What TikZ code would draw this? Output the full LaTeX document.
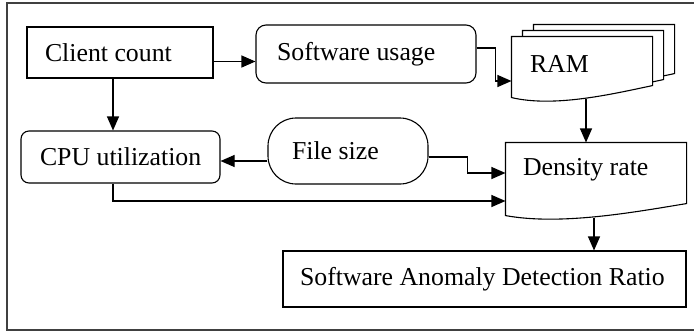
\documentclass[tikz,border=0pt]{standalone}
\usepackage{fontspec}
\setmainfont{Liberation Serif}
\usetikzlibrary{arrows.meta, calc, backgrounds}
\newcommand{\lefttext}[2]{\makebox[#1][l]{#2}}
\tikzset{
  box/.style={draw, line width=0.55pt, inner ysep=0pt},
  roundbox/.style={box, rounded corners=5pt},
  pill/.style={box, rounded corners=14pt},
  docbox/.style={box, draw=none},
  docline/.style={line width=0.55pt, fill=white},
  frame/.style={line width=1pt, draw=black!75},
  arr/.style={-{Triangle[length=7pt, width=6pt]}, line width=0.55pt},
  docpath/.style 2 args={insert path={
      ($(#1.north west)+#2$) -- ($(#1.north east)+#2$)
      -- ($(#1.south east)+(0,-12)+#2$)
      .. controls ($(#1.south west)!0.7!(#1.south east)+(0,-3)+#2$)
      and ($(#1.south west)!0.3!(#1.south east)+(0,10)+#2$)
      .. ($(#1.south west)+#2$) -- cycle}},
}

\begin{document}
\begin{tikzpicture}[x=0.5pt, y=-0.5pt, font=\fontsize{12.9}{15}\selectfont]
  \useasboundingbox (0,0) rectangle (694,333);
  % outer frame
  \draw[frame] (700,3) -| (7,330) -- (700,330);
  % boxes
  \node[box, inner xsep=9pt, minimum height=25.5pt] (client) at (120,52.5) {\lefttext{75pt}{Client count}};
  \node[roundbox, inner xsep=10.5pt, minimum height=29pt] (soft) at (366,54) {\lefttext{89pt}{Software usage}};
  \node[roundbox, rounded corners=4pt, inner xsep=9.5pt, minimum height=26pt] (cpu) at (120.5,157) {\lefttext{80.5pt}{CPU utilization}};
  \node[pill, inner xsep=12pt, minimum height=33pt] (file) at (348,151) {\lefttext{56pt}{File size}};
  \node[docbox, inner xsep=9pt, text height=17.5pt, text depth=12.5pt] (ram) at (582,67) {\lefttext{52pt}{RAM}};
  \node[docbox, inner xsep=8.5pt, text height=16pt, text depth=20pt] (dens) at (596,179) {\lefttext{73pt}{Density rate}};
  \node[box, inner xsep=8.5pt, minimum height=28pt] (sadr) at (484.5,279) {\lefttext{184.5pt}{Software Anomaly Detection Ratio}};
  % document outlines
  \begin{scope}[on background layer]
    \draw[docline] [docpath={ram}{(22,-12)}];
    \draw[docline] [docpath={ram}{(11,-6)}];
    \draw[docline] [docpath={ram}{(0,0)}];
    \draw[docline] [docpath={dens}{(0,0)}];
  \end{scope}
  % connectors
  \draw[arr] ([yshift=-4.5pt]client.east) coordinate (c1) -- (c1 -| soft.west);
  \draw[arr] ([xshift=-3.5pt]client.south) coordinate (c2) -- (c2 |- cpu.north);
  \draw[arr] ([yshift=-5pt]file.west) coordinate (c3) -- (c3 -| cpu.east);
  \draw[arr] ([yshift=3pt]soft.east) -- ++(19,0) |- ([yshift=-7pt]ram.west);
  \draw[arr] ([xshift=2pt,yshift=-0.5pt]ram.south) coordinate (c4) -- (c4 |- dens.north);
  \draw[arr] ([yshift=-3pt]file.east) -- ++(39,0) |- ([yshift=3pt]dens.west);
  \draw[arr] ([xshift=-3.75pt]cpu.south) |- ([yshift=-11pt]dens.west);
  \draw[arr] ([xshift=-1pt,yshift=-1pt]dens.south) coordinate (c5) -- (c5 |- sadr.north);
\end{tikzpicture}
\end{document}
